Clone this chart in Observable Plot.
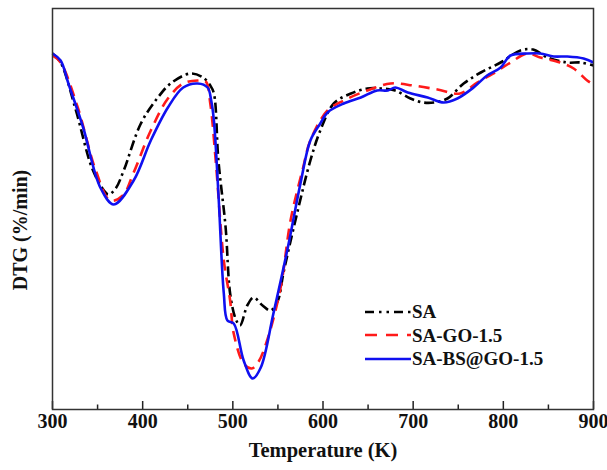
<!DOCTYPE html>
<html><head><meta charset="utf-8">
<script src="https://cdn.jsdelivr.net/npm/d3@7"></script>
<script src="https://cdn.jsdelivr.net/npm/@observablehq/plot@0.6"></script>
<style>
body{margin:0;background:#fff;}
#wrap{position:relative;width:607px;height:470px;font-family:"Liberation Serif","Times New Roman",serif;font-weight:bold;color:#111;}
#legend{position:absolute;left:365px;top:300px;font-size:19px;line-height:1;}
.row{display:flex;align-items:center;height:23.5px;}
.row svg{margin-right:1px;}
</style></head><body><div id="wrap"><div id="legend"></div></div>
<script>
// Temperature (K) and DTG (arbitrary units)
const T_SA = [300,309,326,344,357,362,370,379,398,416,431,453,467,475,479,484,492,497,503,508,516,523,533,542,550,556,572,586,597,612,631,649,664,680,697,711,723,738,756,775,797,819,833,849,871,886,900];
const DTG_SA = [356,347,299,241,219,215,221,239,286,311,326,336,332,324,316,249,182,116,91,84,104,112,104,99,109,136,199,249,279,306,316,321,321,319,311,307,307,311,326,337,347,359,360,352,347,347,344];

const T_GO = [300,309,328,348,364,378,390,409,428,445,461,470,475,481,490,497,501,512,521,528,538,553,564,578,586,605,623,649,675,700,727,752,771,789,808,827,841,863,878,893,900];
const DTG_GO = [354,347,302,239,209,214,237,279,311,326,329,328,306,249,149,109,76,46,41,47,69,122,189,242,269,299,309,319,326,324,320,316,327,336,347,356,352,347,341,329,325];

const T_BS = [300,309,318,334,353,368,390,409,428,445,461,472,476,479,484,490,494,501,512,522,531,545,561,575,586,597,605,623,642,660,672,680,694,716,734,749,767,782,797,808,827,841,856,871,889,900];
const DTG_BS = [356,349,325,282,222,205,229,269,302,322,326,322,309,289,216,116,89,86,49,31,42,96,162,226,269,286,297,306,312,319,319,322,317,312,307,311,322,334,342,354,356,356,353,353,351,347];

const seriesNames = ["SA","SA-GO-1.5","SA-BS@GO-1.5"];
const seriesColors = ["#000000","#ff1a1a","#1010f0"];
const seriesDash = ["10,4,2.5,4","11,7",null];

const majorTicks = [300,400,500,600,700,800,900];
const minorTicks = [350,450,550,650,750,850];
const xLabel = "Temperature (K)";
const yLabel = "DTG (%/min)";

const seriesData = [
  T_SA.map((t,i)=>({T:t, v:DTG_SA[i], s:seriesNames[0]})),
  T_GO.map((t,i)=>({T:t, v:DTG_GO[i], s:seriesNames[1]})),
  T_BS.map((t,i)=>({T:t, v:DTG_BS[i], s:seriesNames[2]}))
];

const font = "'Liberation Serif','Times New Roman',serif";
const lineMarks = seriesData.map((d,i)=>Plot.line(d,{x:"T", y:"v", stroke:seriesColors[i], strokeWidth:2.6, strokeDasharray:seriesDash[i], curve:"catmull-rom", strokeLinecap:"butt"}));

const chart = Plot.plot({
  width:607, height:470,
  marginLeft:52, marginRight:14, marginTop:8, marginBottom:61,
  style:{fontFamily:font, fontWeight:"bold", background:"transparent", color:"#111"},
  x:{domain:[300,900], axis:null},
  y:{domain:[0,401], axis:null},
  marks:[
    Plot.ruleX(majorTicks,{x:d=>d, y1:0, y2:8, stroke:"#222", strokeWidth:1.5}),
    Plot.ruleX(minorTicks,{x:d=>d, y1:0, y2:4.5, stroke:"#222", strokeWidth:1.5}),
    ...lineMarks,
    Plot.frame({stroke:"#333", strokeWidth:1.5}),
    Plot.text(majorTicks,{x:d=>d, frameAnchor:"bottom", dy:18.5, text:d=>String(d), fontSize:20, fontWeight:"bold", fill:"#111"}),
    Plot.text([xLabel],{frameAnchor:"bottom", dy:47, textAnchor:"middle", text:d=>d, fontSize:20.5, fontWeight:"bold", fill:"#111"}),
    Plot.text([yLabel],{frameAnchor:"left", textAnchor:"middle", dx:-32, dy:21, rotate:-90, text:d=>d, fontSize:20, fontWeight:"bold", fill:"#111"})
  ]
});
chart.style.position="absolute"; chart.style.left="0"; chart.style.top="0";
const wrap = document.getElementById("wrap");
wrap.insertBefore(chart, wrap.firstChild);

const legend = document.getElementById("legend");
seriesNames.forEach((n,i)=>{
  const row = document.createElement("div"); row.className="row";
  const dash = i===0 ? "9,5,2.5,5,2.5,5" : (i===1 ? "12,9" : "none");
  row.innerHTML = `<svg width="46" height="10"><line x1="0" y1="5" x2="46" y2="5" stroke="${seriesColors[i]}" stroke-width="2.6" stroke-dasharray="${dash}"/></svg><span>${n}</span>`;
  legend.appendChild(row);
});
</script></body></html>
